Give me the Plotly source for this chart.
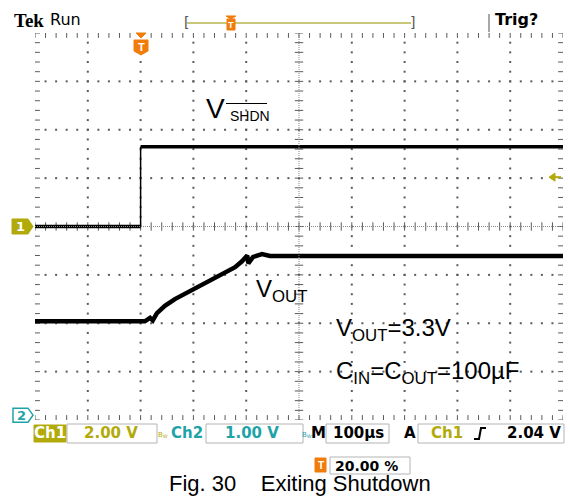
import numpy as np
import plotly.graph_objects as go

# ---- scope settings ----
time_per_div_us = 100.0
ch1_volts_per_div = 2.0
ch2_volts_per_div = 1.0
ch2_offset_div = -3.9          # Ch2 ground marker position (divisions)
trig_level_v = 2.04

# ---- Ch1: V_SHDN (time in µs, volts) ----
ch1_t = [-200, 0, 0, 800]
ch1_v = [0.0, 0.0, 3.3, 3.3]

# ---- Ch2: VOUT (time in µs, volts) ----
ch2_t = [-200, 8, 18, 23, 31, 46, 65, 94, 112, 135, 160, 179, 192, 202, 204, 213, 230, 245, 800]
ch2_v = [1.94, 1.94, 2.01, 1.96, 2.11, 2.26, 2.40, 2.57, 2.68, 2.80, 2.94, 3.06, 3.18, 3.30, 3.14, 3.27, 3.33, 3.29, 3.29]

# ---- readout labels ----
header_left = ["Tek", "Run"]
header_right = "Trig?"
readout_ch1 = "2.00 V"
readout_ch2 = "1.00 V"
readout_time = "100µs"
readout_trig = "2.04 V"
readout_hpos = "20.00 %"
caption = "Fig. 30    Exiting Shutdown"

OLIVE = "#b2aa0a"
TEAL = "#1fa3a8"
ORANGE = "#f07d0a"
GRID = "#5a5a5a"
FRAME = "#8e8e8e"
FONT = "Liberation Sans"

# plot area in pixels
L, R, T, B = 35, 563, 33, 420
W, H = 570, 497


def X(px):
    return (px - L) / (R - L)


def Y(py):
    return (B - py) / (B - T)


t0, t1 = -200.0, 800.0
y0, y1 = -4.0, 4.0

fig = go.Figure()

# ---- graticule ----
minor_x = np.arange(t0, t1 + 1e-9, time_per_div_us / 5)
minor_y = np.arange(y0, y1 + 1e-9, 0.2)
major_x = [t0 + k * time_per_div_us for k in range(1, 10) if k != 5]
major_y = [m for m in range(-3, 4) if m != 0]
tc = t0 + 5 * time_per_div_us

dx, dy = [], []
for xv in major_x:
    for yv in minor_y[1:-1]:
        dx.append(xv); dy.append(yv)
for yv in major_y:
    for xv in minor_x[1:-1]:
        dx.append(xv); dy.append(yv)
fig.add_trace(go.Scatter(x=dx, y=dy, mode="markers", hoverinfo="skip",
                         marker=dict(symbol="square", size=2, color=GRID, line_width=0)))

# centre crosshair: dense dotted lines
fig.add_shape(type="line", x0=t0, x1=t1, y0=0, y1=0, line=dict(color="#8a8a8a", width=1, dash="1px,1px"))
fig.add_shape(type="line", x0=tc, x1=tc, y0=y0, y1=y1, line=dict(color="#8a8a8a", width=1, dash="1px,1px"))
# centre crosshair ticks
fig.add_trace(go.Scatter(x=minor_x, y=[0] * len(minor_x), mode="markers", hoverinfo="skip",
                         marker=dict(symbol="line-ns", size=6, line=dict(color=GRID, width=1))))
fig.add_trace(go.Scatter(x=[tc] * len(minor_y), y=minor_y, mode="markers", hoverinfo="skip",
                         marker=dict(symbol="line-ew", size=6, line=dict(color=GRID, width=1))))
# edge ticks
fig.add_trace(go.Scatter(x=np.concatenate([minor_x, minor_x]),
                         y=[y1] * len(minor_x) + [y0] * len(minor_x), mode="markers", hoverinfo="skip",
                         marker=dict(symbol="line-ns", size=7, line=dict(color=GRID, width=1))))
fig.add_trace(go.Scatter(x=[t0] * len(minor_y) + [t1] * len(minor_y),
                         y=np.concatenate([minor_y, minor_y]), mode="markers", hoverinfo="skip",
                         marker=dict(symbol="line-ew", size=7, line=dict(color=GRID, width=1))))


# ---- waveforms ----
def split_edges(ts, ys):
    """Separate level segments (drawn thick) from instantaneous edges (drawn thin)."""
    lx, ly, ex, ey = [], [], [], []
    for i in range(len(ts) - 1):
        if ts[i] == ts[i + 1]:
            ex += [ts[i], ts[i + 1], None]; ey += [ys[i], ys[i + 1], None]
        else:
            lx += [ts[i], ts[i + 1], None]; ly += [ys[i], ys[i + 1], None]
    return lx, ly, ex, ey


c1y = [v / ch1_volts_per_div for v in ch1_v]
lx, ly, ex, ey = split_edges(ch1_t, c1y)
fig.add_trace(go.Scatter(x=ex, y=ey, mode="lines", line=dict(color="black", width=1.5), hoverinfo="skip"))
fig.add_trace(go.Scatter(x=lx, y=ly, mode="lines", line=dict(color="black", width=3.5), hoverinfo="skip"))
fig.add_trace(go.Scatter(x=ch2_t, y=[v / ch2_volts_per_div + ch2_offset_div for v in ch2_v], mode="lines",
                         line=dict(color="black", width=4.5), hoverinfo="skip"))

shapes = []
ann = []


def text(x, y, s, size, color="black", anchor="left", family=FONT, yanchor="middle"):
    ann.append(dict(x=X(x), y=Y(y), xref="paper", yref="paper", text=s, showarrow=False,
                    xanchor=anchor, yanchor=yanchor, font=dict(size=size, color=color, family=family)))


def box(x0, y0_, x1, y1_, line="#b4b4b4", fill=None, width=1):
    shapes.append(dict(type="rect", xref="paper", yref="paper", x0=X(x0), x1=X(x1), y0=Y(y1_), y1=Y(y0_),
                       line=dict(color=line, width=width), fillcolor=fill or "rgba(0,0,0,0)", layer="above"))


def path(pts, fill, line=None, width=1):
    d = "M " + " L ".join(f"{X(px):.5f},{Y(py):.5f}" for px, py in pts) + " Z"
    shapes.append(dict(type="path", xref="paper", yref="paper", path=d, fillcolor=fill,
                       line=dict(color=line or fill, width=width), layer="above"))


def hline(xa, xb, y, color, width=1):
    shapes.append(dict(type="line", xref="paper", yref="paper", x0=X(xa), x1=X(xb), y0=Y(y), y1=Y(y),
                       line=dict(color=color, width=width), layer="above"))


def vline(x, ya, yb, color, width=1):
    shapes.append(dict(type="line", xref="paper", yref="paper", x0=X(x), x1=X(x), y0=Y(ya), y1=Y(yb),
                       line=dict(color=color, width=width), layer="above"))


# frame
box(L - 1, T - 1, R + 1, B + 1, line=FRAME, width=2)

# header
text(12, 20, "<b>" + header_left[0] + "</b>", 19, family="Liberation Serif")
text(48, 19, header_left[1], 16, family="DejaVu Sans")
vline(110, 14, 32, "#a8a8a8", 2)
vline(489, 14, 32, "#a8a8a8", 2)
text(493, 19, "<b>" + header_right + "</b>", 16, family="DejaVu Sans")
# record view bracket
hline(187, 411, 23, "#c9c77a", 2)
text(186, 22, "[", 14, color="#555555", anchor="center", family="DejaVu Sans")
text(412, 22, "]", 14, color="#555555", anchor="center", family="DejaVu Sans")
path([(226, 16), (236, 16), (231, 19)], ORANGE)
box(227, 19, 235, 30, line=ORANGE, fill=ORANGE)
text(231, 25, "<b>T</b>", 9, color="white", anchor="center")

# trigger position marker
path([(136, 33), (146, 33), (141, 38)], ORANGE)
path([(134, 40), (148, 40), (148, 51), (141, 55), (134, 51)], ORANGE)
text(141, 47, "<b>T</b>", 11, color="white", anchor="center")

# trigger level arrow
trig_y = 226.5 - trig_level_v / ch1_volts_per_div * (B - T) / 8
path([(549, trig_y), (555, trig_y - 4), (555, trig_y + 4)], OLIVE)
hline(554, 561, trig_y, OLIVE, 2)

# channel ground markers
path([(12, 219), (28, 219), (33, 226.5), (28, 234), (12, 234)], OLIVE)
text(20, 227, "<b>1</b>", 13, color="white", anchor="center", family="DejaVu Sans")
g2 = 226.5 - ch2_offset_div * (B - T) / 8
path([(13, g2 - 7), (28, g2 - 7), (33, g2), (28, g2 + 7), (13, g2 + 7)], "white", line=TEAL, width=1.5)
text(21, g2, "<b>2</b>", 13, color=TEAL, anchor="center", family="DejaVu Sans")

# waveform labels
text(204, 108, "V", 28)
text(228, 116, "SHDN", 14)
hline(226, 267, 103.5, "black", 1)
ann.append(dict(x=X(254), y=Y(290), xref="paper", yref="paper", showarrow=False, xanchor="left", yanchor="middle",
                text="V<sub>OUT</sub>", font=dict(size=24, color="black", family=FONT)))
ann.append(dict(x=X(334), y=Y(329), xref="paper", yref="paper", showarrow=False, xanchor="left", yanchor="middle",
                text="V<sub>OUT</sub>=3.3V", font=dict(size=24, color="black", family=FONT)))
ann.append(dict(x=X(334), y=Y(372), xref="paper", yref="paper", showarrow=False, xanchor="left", yanchor="middle",
                text="C<sub>IN</sub>=C<sub>OUT</sub>=100µF", font=dict(size=24, color="black", family=FONT)))

# status readout row
SY = 433
SF = "DejaVu Sans"
SS = 15
box(34, 425, 66, 442, line=OLIVE, fill=OLIVE)
text(50, SY, "<b>Ch1</b>", SS, color="white", anchor="center", family=SF)
box(67, 424, 157, 443)
text(111, SY, "<b>" + readout_ch1 + "</b>", SS, color=OLIVE, anchor="center", family=SF)
text(163, SY + 2, "B<sub>W</sub>", 7, color=OLIVE, anchor="center", family=SF)
text(187, SY, "<b>Ch2</b>", SS, color=TEAL, anchor="center", family=SF)
box(206, 424, 303, 443)
text(252, SY, "<b>" + readout_ch2 + "</b>", SS, color=TEAL, anchor="center", family=SF)
text(307, SY + 2, "B<sub>W</sub>", 7, color=TEAL, anchor="center", family=SF)
text(318, SY, "<b>M</b>", SS, anchor="center", family=SF)
box(326, 424, 389, 443)
text(358, SY, "<b>" + readout_time + "</b>", SS, anchor="center", family=SF)
text(410, SY, "<b>A</b>", SS, anchor="center", family=SF)
box(418, 424, 564, 443)
text(447, SY, "<b>Ch1</b>", SS, color=OLIVE, anchor="center", family=SF)
shapes.append(dict(type="path", xref="paper", yref="paper",
                   path=f"M {X(474):.5f},{Y(439):.5f} L {X(479):.5f},{Y(439):.5f} L {X(481):.5f},{Y(428):.5f} L {X(486):.5f},{Y(428):.5f}",
                   line=dict(color="black", width=2), layer="above"))
text(563, SY, "<b>" + readout_trig + "</b>", SS, anchor="right", family=SF)

# horizontal position readout
box(315, 458, 326, 472, line=ORANGE, fill=ORANGE)
text(320.5, 465, "<b>T</b>", 10, color="white", anchor="center")
box(330, 457, 410, 474)
text(333, 466, "<b>" + readout_hpos + "</b>", 14, anchor="left", family=SF)

# caption
text(300, 484, caption, 22, anchor="center")

fig.update_layout(
    width=W, height=H,
    margin=dict(l=L, r=W - R, t=T, b=H - B, pad=0),
    paper_bgcolor="white", plot_bgcolor="white",
    showlegend=False,
    xaxis=dict(range=[t0, t1], visible=False, fixedrange=True),
    yaxis=dict(range=[y0, y1], visible=False, fixedrange=True),
    shapes=shapes, annotations=ann,
)

fig.write_html("out.html")
